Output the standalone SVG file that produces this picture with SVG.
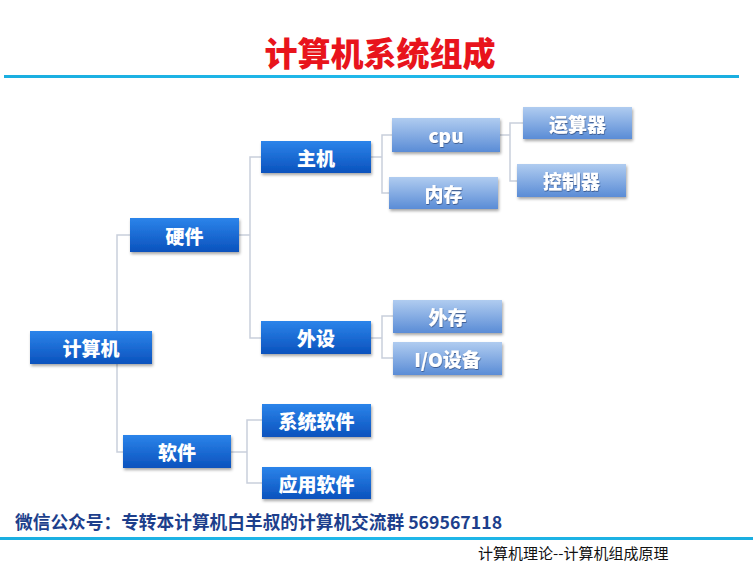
<svg xmlns="http://www.w3.org/2000/svg" width="753" height="562" viewBox="0 0 753 562">
<style>
.t{font-family:"Noto Sans CJK SC","Liberation Sans",sans-serif;font-weight:900;font-size:19px;fill:#fff;text-anchor:middle;dominant-baseline:central}
.c{stroke:#c9cfdb;stroke-width:1.5;fill:none}
</style>
<defs>
<linearGradient id="dk" x1="0" y1="0" x2="0" y2="1"><stop offset="0" stop-color="#2c84ea"/><stop offset="1" stop-color="#0a52bd"/></linearGradient>
<linearGradient id="lt" x1="0" y1="0" x2="0" y2="1"><stop offset="0" stop-color="#b0ccf0"/><stop offset="1" stop-color="#5a8cd6"/></linearGradient>
<linearGradient id="ln" x1="0" y1="0" x2="1" y2="0"><stop offset="0" stop-color="#1aaee0"/><stop offset="0.5" stop-color="#20b8ea"/><stop offset="1" stop-color="#1aaee0"/></linearGradient>
<filter id="sh" x="-10%" y="-20%" width="125%" height="150%"><feDropShadow dx="1" dy="2" stdDeviation="1.5" flood-color="#000" flood-opacity="0.35"/></filter>
<filter id="ts" x="-10%" y="-20%" width="120%" height="150%"><feDropShadow dx="0.5" dy="1" stdDeviation="0.6" flood-color="#1a3060" flood-opacity="0.6"/></filter>
</defs>
<rect width="753" height="562" fill="#fff"/>
<text x="380" y="52" font-family="Noto Sans CJK SC,Liberation Sans,sans-serif" font-weight="900" font-size="33" fill="#e8141c" text-anchor="middle" dominant-baseline="central">计算机系统组成</text>
<rect x="4" y="75" width="735" height="3" fill="url(#ln)"/>
<g id="connectors">
<path class="c" d="M130 235H117V452H123"/>
<path class="c" d="M239 235H250M261 157H250V338H261"/>
<path class="c" d="M371 157H382M392 135H382V193H389"/>
<path class="c" d="M500 135H510M523 123H510V181H517"/>
<path class="c" d="M371 338H382M393 316H382V358H393"/>
<path class="c" d="M231 452H247M262 420H247V483H262"/>
</g>
<g id="n-computer"><rect x="30" y="331" width="122" height="33" fill="url(#dk)" filter="url(#sh)"/><text class="t" x="91" y="347.5">计算机</text></g>
<g id="n-hardware"><rect x="130" y="218" width="109" height="34" fill="url(#dk)" filter="url(#sh)"/><text class="t" x="184.5" y="235">硬件</text></g>
<g id="n-host"><rect x="261" y="141" width="110" height="32" fill="url(#dk)" filter="url(#sh)"/><text class="t" x="316" y="157">主机</text></g>
<g id="n-peripheral"><rect x="261" y="321" width="110" height="33" fill="url(#dk)" filter="url(#sh)"/><text class="t" x="316" y="337.5">外设</text></g>
<g id="n-software"><rect x="123" y="435" width="108" height="33" fill="url(#dk)" filter="url(#sh)"/><text class="t" x="177" y="451.5">软件</text></g>
<g id="n-syssoft"><rect x="262" y="404" width="109" height="33" fill="url(#dk)" filter="url(#sh)"/><text class="t" x="316.5" y="420.5">系统软件</text></g>
<g id="n-appsoft"><rect x="262" y="467" width="109" height="32" fill="url(#dk)" filter="url(#sh)"/><text class="t" x="316.5" y="483">应用软件</text></g>
<g id="n-cpu"><rect x="392" y="118" width="108" height="34" fill="url(#lt)" filter="url(#sh)"/><text class="t" x="446" y="134" filter="url(#ts)">cpu</text></g>
<g id="n-memory"><rect x="389" y="177" width="109" height="32" fill="url(#lt)" filter="url(#sh)"/><text class="t" x="443.5" y="193" filter="url(#ts)">内存</text></g>
<g id="n-alu"><rect x="523" y="107" width="109" height="32" fill="url(#lt)" filter="url(#sh)"/><text class="t" x="577.5" y="123" filter="url(#ts)">运算器</text></g>
<g id="n-control"><rect x="517" y="164" width="109" height="33" fill="url(#lt)" filter="url(#sh)"/><text class="t" x="571.5" y="180.5" filter="url(#ts)">控制器</text></g>
<g id="n-extstore"><rect x="393" y="300" width="109" height="33" fill="url(#lt)" filter="url(#sh)"/><text class="t" x="447.5" y="316.5" filter="url(#ts)">外存</text></g>
<g id="n-io"><rect x="393" y="342" width="109" height="33" fill="url(#lt)" filter="url(#sh)"/><text class="t" x="447.5" y="358.5" filter="url(#ts)">I/O设备</text></g>
<text x="15" y="521" font-family="Noto Sans CJK SC,Liberation Sans,sans-serif" font-weight="bold" font-size="17.7" fill="#1d3f8c" dominant-baseline="central">微信公众号：专转本计算机白羊叔的计算机交流群 569567118</text>
<rect x="0" y="537" width="753" height="3" fill="url(#ln)"/>
<text x="478" y="552" font-family="Noto Sans CJK SC,Liberation Sans,sans-serif" font-size="15" fill="#111" dominant-baseline="central">计算机理论--计算机组成原理</text>
</svg>
